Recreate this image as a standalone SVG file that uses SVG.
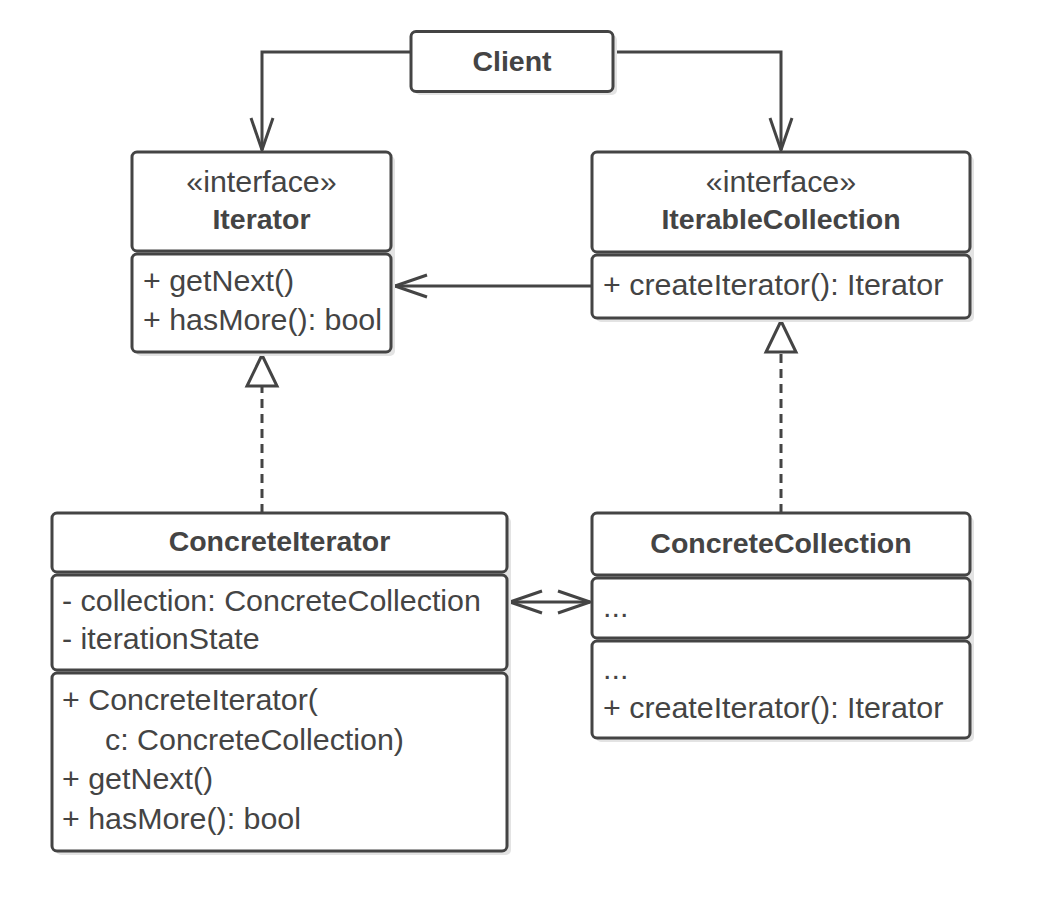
<svg xmlns="http://www.w3.org/2000/svg" width="1040" height="898" viewBox="0 0 1040 898">
<defs>
<style>
.bx{fill:#fff;stroke:#444;stroke-width:3}
.sh{fill:#e3e3e3}
.t{font-family:"Liberation Sans",Arial,sans-serif;font-size:30.4px;fill:#444}
.c{text-anchor:middle}
.b{font-weight:bold;font-size:28.5px}
.ln{fill:none;stroke:#444;stroke-width:3}
.ds{stroke-dasharray:9 6}
</style>
<marker id="open" viewBox="-36 -14 40 28" refX="0" refY="0" markerWidth="40" markerHeight="28" markerUnits="userSpaceOnUse" orient="auto-start-reverse">
<path d="M -32 -11 L 0 0 L -32 11" fill="none" stroke="#444" stroke-width="3"/>
</marker>
<marker id="tri" viewBox="-36 -18 40 36" refX="0" refY="0" markerWidth="40" markerHeight="36" markerUnits="userSpaceOnUse" orient="auto">
<path d="M -1 0 L -32 -15 L -32 15 Z" fill="#fff" stroke="#444" stroke-width="3" stroke-dasharray="none" stroke-linejoin="miter"/>
</marker>
</defs>
<rect width="1040" height="898" fill="#fff"/>

<g id="connectors">
<path class="ln" d="M 411 52 H 262 V 150" marker-end="url(#open)"/>
<path class="ln" d="M 613 52 H 781 V 150" marker-end="url(#open)"/>
<path class="ln" d="M 592 286 H 395" marker-end="url(#open)"/>
<path class="ln ds" d="M 262 513 V 354" marker-end="url(#tri)"/>
<path class="ln ds" d="M 781 513 V 320" marker-end="url(#tri)"/>
<path class="ln" d="M 510 602 H 590" marker-start="url(#open)" marker-end="url(#open)"/>
</g>

<g id="client">
<rect class="sh" x="415" y="35" width="202" height="60" rx="5"/>
<rect class="bx" x="411" y="31.5" width="202" height="60" rx="5"/>
<text class="t b c" x="512" y="71">Client</text>
</g>

<g id="iterator">
<rect class="sh" x="136" y="156" width="259" height="200" rx="5"/>
<rect class="bx" x="132" y="152" width="259" height="99" rx="5"/>
<rect class="bx" x="132" y="254" width="259" height="98" rx="5"/>
<text class="t c" x="261.5" y="192">«interface»</text>
<text class="t b c" x="261.5" y="229">Iterator</text>
<text class="t" x="143" y="291">+ getNext()</text>
<text class="t" x="143" y="330">+ hasMore(): bool</text>
</g>

<g id="iterableCollection">
<rect class="sh" x="596" y="156" width="378" height="166" rx="5"/>
<rect class="bx" x="592" y="152" width="378" height="100" rx="5"/>
<rect class="bx" x="592" y="255" width="378" height="63" rx="5"/>
<text class="t c" x="781" y="192">«interface»</text>
<text class="t b c" x="781" y="229">IterableCollection</text>
<text class="t" x="603" y="295">+ createIterator(): Iterator</text>
</g>

<g id="concreteIterator">
<rect class="sh" x="56" y="517" width="455" height="338" rx="5"/>
<rect class="bx" x="52" y="513" width="455" height="59" rx="5"/>
<rect class="bx" x="52" y="575" width="455" height="95" rx="5"/>
<rect class="bx" x="52" y="673" width="455" height="178" rx="5"/>
<text class="t b c" x="279.5" y="551">ConcreteIterator</text>
<text class="t" x="62" y="611">- collection: ConcreteCollection</text>
<text class="t" x="62" y="649">- iterationState</text>
<text class="t" x="62" y="710">+ ConcreteIterator(</text>
<text class="t" x="105" y="750">c: ConcreteCollection)</text>
<text class="t" x="62" y="789">+ getNext()</text>
<text class="t" x="62" y="829">+ hasMore(): bool</text>
</g>

<g id="concreteCollection">
<rect class="sh" x="596" y="517" width="378" height="225" rx="5"/>
<rect class="bx" x="592" y="513" width="378" height="62" rx="5"/>
<rect class="bx" x="592" y="578" width="378" height="60" rx="5"/>
<rect class="bx" x="592" y="641" width="378" height="97" rx="5"/>
<text class="t b c" x="781" y="553">ConcreteCollection</text>
<text class="t" x="603" y="617">...</text>
<text class="t" x="603" y="679">...</text>
<text class="t" x="603" y="718">+ createIterator(): Iterator</text>
</g>
</svg>
